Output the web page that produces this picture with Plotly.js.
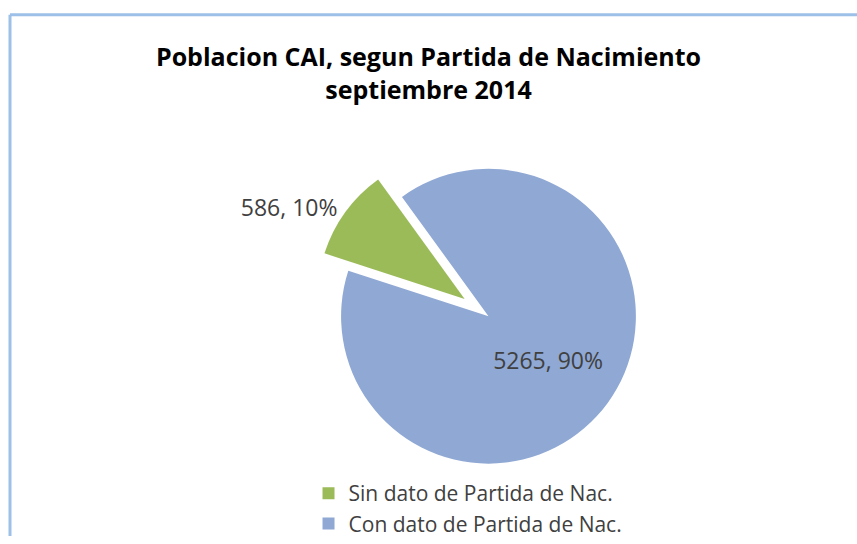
<!DOCTYPE html>
<html>
<head>
<meta charset="utf-8">
<script src="https://cdn.plot.ly/plotly-3.0.1.min.js"></script>
<style>html,body{margin:0;padding:0;background:#fff;}#chart{width:857px;height:544px;}</style>
</head>
<body>
<div id="chart"></div>
<script>
const categories = ["Sin dato de Partida de Nac.", "Con dato de Partida de Nac."];
const values = [586, 5265];
const colors = ["#9bbb59", "#8fa8d4"];
const titleLines = ["Poblacion CAI, segun Partida de Nacimiento", "septiembre 2014"];

const W = 857, H = 544;
const trace = {
  type: "pie",
  labels: categories,
  values: values,
  sort: false,
  direction: "clockwise",
  rotation: -72,
  pull: [0.2, 0],
  marker: {colors: colors, line: {color: "#ffffff", width: 0}},
  texttemplate: "%{value}, %{percent:.0%}",
  textposition: ["outside", "inside"],
  insidetextorientation: "horizontal",
  textfont: {family: "Open Sans, sans-serif", size: 23, color: "#404040"},
  outsidetextfont: {family: "Open Sans, sans-serif", size: 23, color: "#404040"},
  hoverinfo: "label+value+percent",
  domain: {x: [0.28, 0.86], y: [0.08, 0.74]}
};

const layout = {
  width: W, height: H,
  margin: {l: 0, r: 0, t: 0, b: 0},
  paper_bgcolor: "#ffffff",
  title: {
    text: "<b>" + titleLines.join("<br>") + "</b>",
    font: {family: "Open Sans, sans-serif", size: 25, color: "#000000"},
    x: 0.5, xanchor: "center", y: 1 - 66/H, yanchor: "middle", yref: "container"
  },
  showlegend: true,
  legend: {
    x: 0.36, xanchor: "left", y: -0.015, yanchor: "bottom",
    font: {family: "Open Sans, sans-serif", size: 21, color: "#404040"},
    bgcolor: "rgba(0,0,0,0)", traceorder: "normal"
  },
  shapes: [
    {type: "line", xref: "paper", yref: "paper", x0: 10/W, x1: 10/W, y0: 0, y1: 1 - 15/H,
     line: {color: "#9dc0e8", width: 3}},
    {type: "line", xref: "paper", yref: "paper", x0: 10/W, x1: 1, y0: 1 - 15/H, y1: 1 - 15/H,
     line: {color: "#9dc0e8", width: 3}}
  ]
};

Plotly.newPlot("chart", [trace], layout, {displayModeBar: false, staticPlot: true});
</script>
</body>
</html>
